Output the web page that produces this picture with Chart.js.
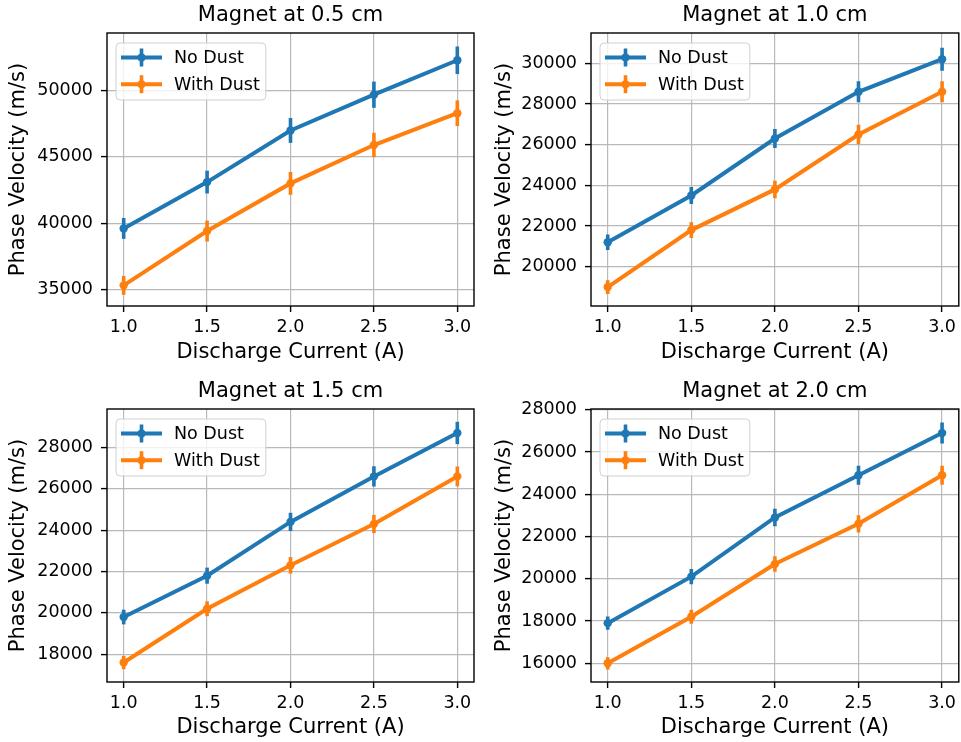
<!DOCTYPE html>
<html lang="en">
<head>
<meta charset="UTF-8">
<title>Phase Velocity vs Discharge Current</title>
<script src="https://cdn.jsdelivr.net/npm/chart.js"></script>
<style>
  html, body { margin: 0; padding: 0; background: #fff; overflow: hidden; }
  canvas { position: absolute; }
</style>
</head>
<body>
<canvas id="c1"></canvas>
<canvas id="c2"></canvas>
<canvas id="c3"></canvas>
<canvas id="c4"></canvas>

<script>
// discharge current (A)
const current = [1.0, 1.5, 2.0, 2.5, 3.0];
const xTicks = [1.0, 1.5, 2.0, 2.5, 3.0];
const seriesNames = ['No Dust', 'With Dust'];
const titles = ['Magnet at 0.5 cm', 'Magnet at 1.0 cm', 'Magnet at 1.5 cm', 'Magnet at 2.0 cm'];

// phase velocity (m/s) + error bars, one set per magnet position
const noDust05 = [39600, 43100, 47000, 49700, 52300];
const withDust05 = [35300, 39400, 43000, 45900, 48300];
const noDustErr05 = [790, 860, 940, 990, 1040];
const withDustErr05 = [710, 790, 860, 920, 970];
const yTicks05 = [35000, 40000, 45000, 50000];

const noDust10 = [21200, 23500, 26300, 28600, 30200];
const withDust10 = [19000, 21800, 23800, 26500, 28600];
const noDustErr10 = [380, 420, 470, 520, 560];
const withDustErr10 = [340, 390, 430, 480, 520];
const yTicks10 = [20000, 22000, 24000, 26000, 28000, 30000];

const noDust15 = [19800, 21800, 24400, 26600, 28700];
const withDust15 = [17600, 20200, 22300, 24300, 26600];
const noDustErr15 = [355, 390, 440, 490, 540];
const withDustErr15 = [320, 360, 400, 440, 480];
const yTicks15 = [18000, 20000, 22000, 24000, 26000, 28000];

const noDust20 = [17900, 20100, 22900, 24900, 26900];
const withDust20 = [16000, 18200, 20700, 22600, 24900];
const noDustErr20 = [315, 360, 410, 450, 500];
const withDustErr20 = [290, 330, 370, 410, 450];
const yTicks20 = [16000, 18000, 20000, 22000, 24000, 26000, 28000];

const BLUE = '#1f77b4';
const ORANGE = '#ff7f0e';

Chart.defaults.font.family = "'DejaVu Sans', sans-serif";
Chart.defaults.color = '#000';

// where each subplot sits on the page (right-hand canvases run 2px past the window
// because chart.js always keeps 3px on the right of the x axis)
const panels = [
  { id: 'c1', left: 0,   top: 0,   w: 480, h: 370, a: noDust05, b: withDust05, ea: noDustErr05, eb: withDustErr05, yTicks: yTicks05, ymin: 33740, ymax: 54360,
    titleTop: 3.4, yW: 107, padR: 6, xH: 64, xTitlePad: 4.4, yTitlePad: 6.4 },
  { id: 'c2', left: 480, top: 0,   w: 483, h: 370, a: noDust10, b: withDust10, ea: noDustErr10, eb: withDustErr10, yTicks: yTicks10, ymin: 18068, ymax: 31490,
    titleTop: 3.4, yW: 111, padR: 0, xH: 64, xTitlePad: 4.4, yTitlePad: 12.4 },
  { id: 'c3', left: 0,   top: 370, w: 480, h: 372, a: noDust15, b: withDust15, ea: noDustErr15, eb: withDustErr15, yTicks: yTicks15, ymin: 16659, ymax: 29859,
    titleTop: 9.4, yW: 107, padR: 6, xH: 60, xTitlePad: 1.4, yTitlePad: 6.4 },
  { id: 'c4', left: 480, top: 370, w: 483, h: 372, a: noDust20, b: withDust20, ea: noDustErr20, eb: withDustErr20, yTicks: yTicks20, ymin: 15114, ymax: 28033,
    titleTop: 9.4, yW: 111, padR: 0, xH: 60, xTitlePad: 1.4, yTitlePad: 12.4 }
];

const errorBars = {
  id: 'errorBars',
  afterDatasetsDraw(chart) {
    const { ctx, chartArea, scales: { x, y } } = chart;
    ctx.save();
    ctx.beginPath();
    ctx.rect(chartArea.left, chartArea.top, chartArea.width, chartArea.height);
    ctx.clip();
    chart.data.datasets.forEach(ds => {
      ctx.strokeStyle = ds.borderColor;
      ctx.lineWidth = 3.6;
      ctx.lineCap = 'butt';
      ds.data.forEach((p, i) => {
        const px = x.getPixelForValue(p.x);
        ctx.beginPath();
        ctx.moveTo(px, y.getPixelForValue(p.y - ds.errors[i]));
        ctx.lineTo(px, y.getPixelForValue(p.y + ds.errors[i]));
        ctx.stroke();
      });
    });
    ctx.restore();
  }
};

// axes frame + legend box in the upper left
const frameAndLegend = {
  id: 'frameAndLegend',
  afterDraw(chart) {
    const { ctx, chartArea: ca } = chart;
    ctx.save();
    ctx.strokeStyle = '#000';
    ctx.lineWidth = 1.4;
    ctx.strokeRect(ca.left, ca.top, ca.right - ca.left, ca.bottom - ca.top);

    const bx = ca.left + 9, by = ca.top + 10;
    ctx.font = "17.5px 'DejaVu Sans'";
    const tw = Math.max(...chart.data.datasets.map(d => ctx.measureText(d.label).width));
    const bw = 57 + tw + 7, bh = 57, r = 4;
    ctx.beginPath();
    ctx.moveTo(bx + r, by);
    ctx.arcTo(bx + bw, by, bx + bw, by + bh, r);
    ctx.arcTo(bx + bw, by + bh, bx, by + bh, r);
    ctx.arcTo(bx, by + bh, bx, by, r);
    ctx.arcTo(bx, by, bx + bw, by, r);
    ctx.closePath();
    ctx.fillStyle = 'rgba(255,255,255,0.8)';
    ctx.fill();
    ctx.strokeStyle = '#d0d0d0';
    ctx.lineWidth = 1;
    ctx.stroke();

    chart.data.datasets.forEach((ds, i) => {
      const ly = by + 14.5 + i * 26.7;
      ctx.strokeStyle = ds.borderColor;
      ctx.lineCap = 'butt';
      ctx.lineWidth = 4;
      ctx.beginPath();
      ctx.moveTo(bx + 5, ly);
      ctx.lineTo(bx + 46, ly);
      ctx.stroke();
      ctx.lineWidth = 3.6;
      ctx.beginPath();
      ctx.moveTo(bx + 25.5, ly - 9);
      ctx.lineTo(bx + 25.5, ly + 9);
      ctx.stroke();
      ctx.fillStyle = ds.borderColor;
      ctx.beginPath();
      ctx.arc(bx + 25.5, ly, 4, 0, Math.PI * 2);
      ctx.fill();
      ctx.fillStyle = '#000';
      ctx.textBaseline = 'middle';
      ctx.fillText(ds.label, bx + 58, ly + 1);
    });
    ctx.restore();
  }
};

function makeSeries(label, values, errs, color) {
  return {
    label: label,
    data: current.map((c, i) => ({ x: c, y: values[i] })),
    errors: errs,
    borderColor: color,
    backgroundColor: color,
    borderWidth: 4,
    pointRadius: 4.2,
    pointBorderWidth: 0,
    pointHoverRadius: 4.2,
    pointBackgroundColor: color,
    tension: 0
  };
}

panels.forEach((p, k) => {
  const canvas = document.getElementById(p.id);
  canvas.width = p.w;
  canvas.height = p.h;
  canvas.style.left = p.left + 'px';
  canvas.style.top = p.top + 'px';

  new Chart(canvas.getContext('2d'), {
    type: 'line',
    data: {
      datasets: [
        makeSeries(seriesNames[0], p.a, p.ea, BLUE),
        makeSeries(seriesNames[1], p.b, p.eb, ORANGE)
      ]
    },
    options: {
      responsive: false,
      animation: false,
      layout: { padding: { left: 0, right: p.padR, top: 0, bottom: 0 } },
      plugins: {
        legend: { display: false },
        tooltip: { enabled: false },
        title: {
          display: true,
          fullSize: false,
          text: titles[k],
          font: { size: 21, weight: 'normal', lineHeight: 1.2 },
          padding: { top: p.titleTop, bottom: 4.4 }
        }
      },
      scales: {
        x: {
          type: 'linear',
          min: 0.9,
          max: 3.1,
          afterBuildTicks: s => { s.ticks = xTicks.map(v => ({ value: v })); },
          afterFit: s => { s.height = p.xH; },
          ticks: { font: { size: 17.5 }, padding: 5, callback: v => v.toFixed(1), maxRotation: 0 },
          grid: { color: '#b9b9b9', lineWidth: 1.2, tickColor: '#000', tickLength: 6, tickWidth: 1.4 },
          border: { display: false },
          title: { display: true, text: 'Discharge Current (A)', font: { size: 21, lineHeight: 1.2 }, padding: { top: 0, bottom: p.xTitlePad } }
        },
        y: {
          type: 'linear',
          min: p.ymin,
          max: p.ymax,
          afterBuildTicks: s => { s.ticks = p.yTicks.map(v => ({ value: v })); },
          afterFit: s => { s.width = p.yW; },
          ticks: { font: { size: 17.5 }, padding: 8, callback: v => String(v) },
          grid: { color: '#b9b9b9', lineWidth: 1.2, tickColor: '#000', tickLength: 6, tickWidth: 1.4 },
          border: { display: false },
          title: { display: true, text: 'Phase Velocity (m/s)', font: { size: 21, lineHeight: 1.2 }, padding: { top: p.yTitlePad, bottom: 0 } }
        }
      }
    },
    plugins: [errorBars, frameAndLegend]
  });
});
</script>
</body>
</html>
